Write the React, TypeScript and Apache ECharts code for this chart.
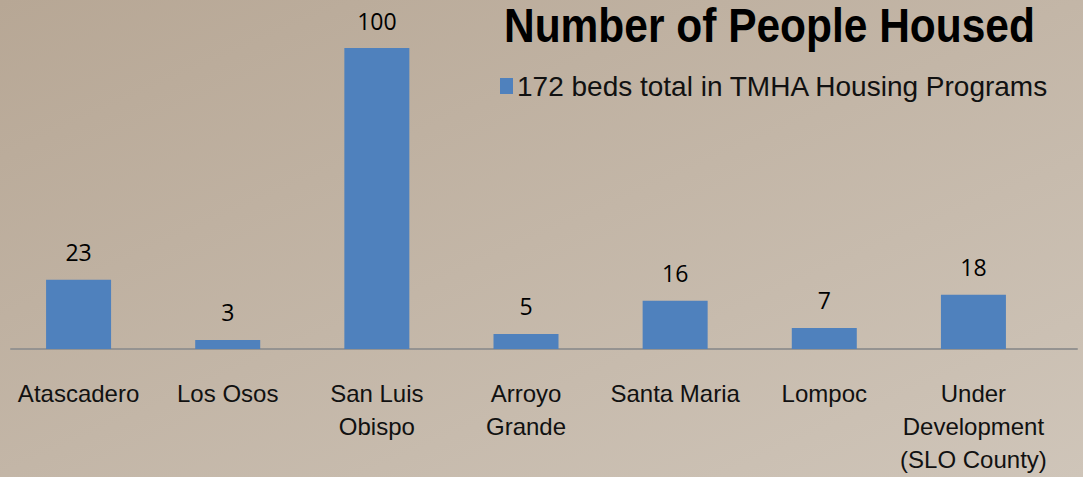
import React, { useEffect, useRef } from "react";
import * as echarts from "echarts";

const categories = [
  "Atascadero",
  "Los Osos",
  "San Luis\nObispo",
  "Arroyo\nGrande",
  "Santa Maria",
  "Lompoc",
  "Under\nDevelopment\n(SLO County)",
];
const beds = [23, 3, 100, 5, 16, 7, 18];
const seriesName = "172 beds total in TMHA Housing Programs";
const titleText = "Number of People Housed";

const sans = "'Liberation Sans', Arial, sans-serif";

export default function App() {
  const ref = useRef<HTMLDivElement>(null);
  useEffect(() => {
    document.body.style.margin = "0";
    const chart = echarts.init(ref.current!, null, { renderer: "svg" });
    chart.setOption({
      animation: false,
      backgroundColor: {
        type: "linear",
        x: 0,
        y: 0,
        x2: 1,
        y2: 1,
        colorStops: [
          { offset: 0, color: "#b7a795" },
          { offset: 1, color: "#cfc5b9" },
        ],
      },
      graphic: [
        {
          type: "text",
          x: 504,
          y: 2,
          scaleX: 0.885,
          style: {
            text: titleText,
            fontFamily: sans,
            fontWeight: "bold",
            fontSize: 48,
            fill: "#000",
            verticalAlign: "top",
          },
        },
      ],
      legend: {
        left: 500,
        top: 72,
        padding: 0,
        itemWidth: 13,
        itemHeight: 16,
        itemGap: 10,
        icon: "rect",
        textStyle: {
          fontFamily: sans,
          fontSize: 28,
          color: "#111",
          padding: [0, 0, 0, -1],
        },
        data: [seriesName],
      },
      grid: [
        { left: 4, right: 35, top: 48, bottom: 128, containLabel: false },
        { left: 11, right: 6, top: 48, bottom: 128, containLabel: false },
      ],
      xAxis: [
        {
          type: "category",
          data: categories,
          gridIndex: 0,
          axisLine: { show: false },
          axisTick: { show: false },
          axisLabel: {
            interval: 0,
            margin: 28,
            fontFamily: sans,
            fontSize: 24,
            lineHeight: 33,
            color: "#111",
          },
        },
        {
          type: "category",
          data: [""],
          gridIndex: 1,
          axisLine: { show: true, lineStyle: { color: "#959391", width: 2 } },
          axisTick: { show: false },
          axisLabel: { show: false },
          splitLine: { show: false },
        },
      ],
      yAxis: [
        { type: "value", min: 0, max: 100, show: false, gridIndex: 0, splitLine: { show: false } },
        { type: "value", min: 0, max: 100, show: false, gridIndex: 1, splitLine: { show: false } },
      ],
      series: [
        {
          name: seriesName,
          type: "bar",
          data: beds,
          barWidth: 65,
          xAxisIndex: 0,
          yAxisIndex: 0,
          z: 3,
          itemStyle: { color: "#4f81bd" },
          label: {
            show: true,
            position: "top",
            distance: 16,
            fontFamily: "'Open Sans', sans-serif",
            fontSize: 23,
            color: "#000",
          },
        },
      ],
    });
    return () => chart.dispose();
  }, []);
  return <div ref={ref} style={{ width: 1083, height: 477 }} />;
}
